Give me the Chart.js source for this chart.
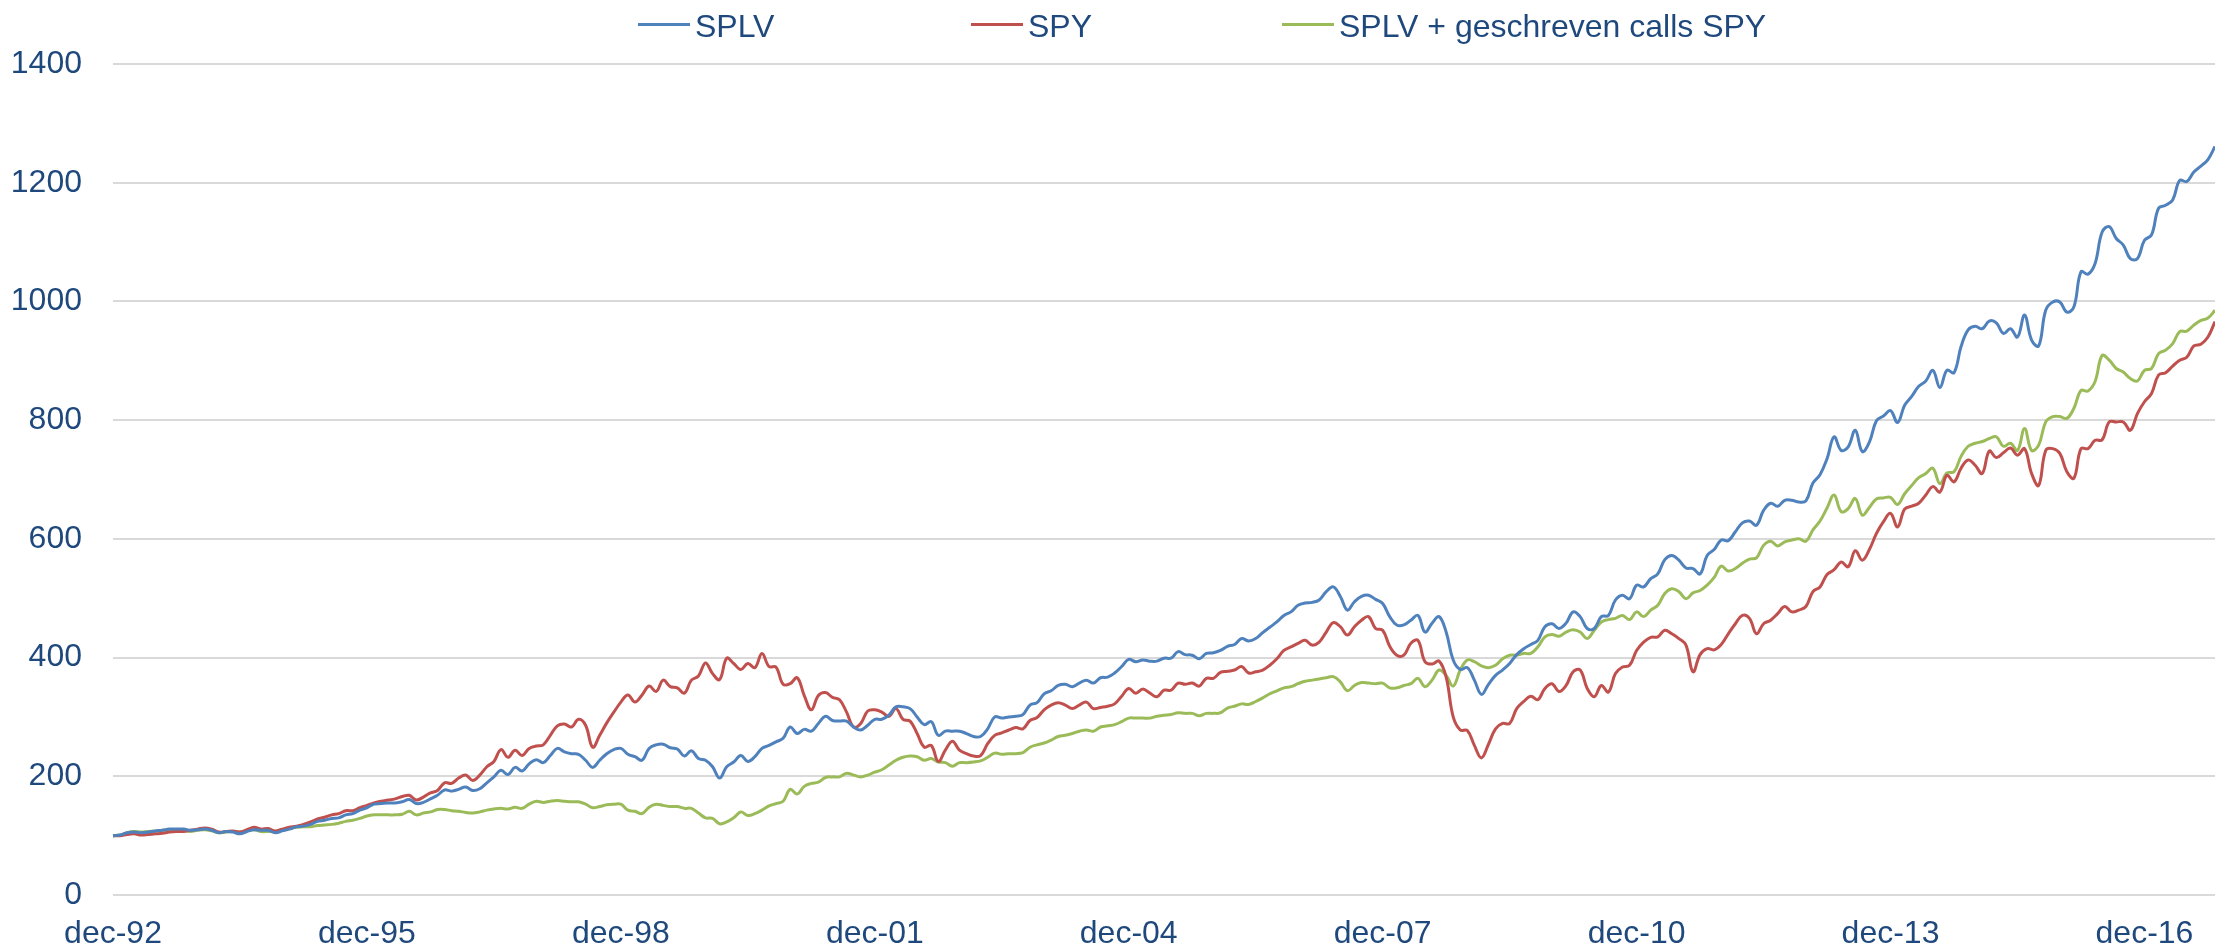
<!DOCTYPE html>
<html lang="nl">
<head>
  <meta charset="UTF-8">
  <title>SPLV vs SPY</title>
  <script src="https://cdn.jsdelivr.net/npm/chart.js"></script>
  <style>
    * { box-sizing: border-box; margin: 0; padding: 0; }

    body {
      background: #fff;
      font-family: 'Liberation Sans', Arial, sans-serif;
      overflow: hidden;
    }

    .wrap {
      position: relative;
      width: 2215px;
      height: 947px;
    }

    .legend-item {
      position: absolute;
      top: 10px;
      height: 32px;
      font-size: 32px;
      line-height: 32px;
      color: #1F497D;
      white-space: nowrap;
    }

    .legend-item .swatch {
      position: absolute;
      left: 0;
      top: 13px;
      width: 52px;
      height: 3px;
    }

    .legend-item .text {
      position: absolute;
      left: 57px;
      top: 0;
    }
  </style>
</head>
<body>

<div class="wrap">
  <canvas id="perfChart"></canvas>
  <div id="legend"></div>
</div>

<script>
  // months: dec-92 .. okt-17
  const monthNames = ['jan', 'feb', 'mrt', 'apr', 'mei', 'jun', 'jul', 'aug', 'sep', 'okt', 'nov', 'dec'];
  const yTicks = [0, 200, 400, 600, 800, 1000, 1200, 1400];

  const splv = [
    100, 101, 105, 106, 105, 106, 108, 109, 111, 111,
    111, 109, 110, 111, 109, 105, 107, 106, 103, 107,
    110, 109, 109, 105, 108, 111, 115, 116, 119, 124,
    126, 129, 130, 135, 137, 143, 147, 153, 154, 155,
    155, 157, 161, 154, 156, 162, 168, 177, 175, 178,
    182, 176, 179, 189, 199, 210, 203, 215, 209, 221,
    228, 223, 235, 247, 241, 238, 237, 227, 215, 227,
    238, 245, 247, 237, 233, 227, 247, 253, 254, 248,
    246, 234, 243, 230, 227, 216, 197, 216, 224, 235,
    225, 233, 247, 252, 258, 264, 283, 272, 279, 276,
    289, 301, 294, 293, 293, 283, 278, 286, 296, 296,
    303, 317, 317, 314, 300, 287, 292, 269, 276, 276,
    276, 272, 267, 267, 280, 300, 298, 300, 301, 304,
    320, 324, 339, 344, 353, 355, 351, 357, 362, 357,
    366, 367, 374, 385, 397, 393, 396, 394, 394, 399,
    399, 410, 405, 404, 398, 407, 408, 412, 419, 422,
    432, 428, 432, 442, 451, 460, 471, 477, 488, 492,
    493, 497, 511, 519, 503, 480, 494, 503, 505, 498,
    491, 469, 455, 455, 463, 471, 443, 458, 469, 443,
    396, 380, 383, 362, 338, 355, 370, 379, 390, 405,
    415, 422, 429, 452, 457, 449, 458, 477, 469, 449,
    449, 469, 471, 497, 505, 499, 522, 519, 533, 541,
    565, 572, 564, 551, 550, 541, 572, 582, 598, 597,
    612, 627, 630, 623, 648, 660, 655, 665, 665, 662,
    664, 694, 708, 735, 772, 749, 755, 783, 747, 763,
    799, 807, 816, 796, 825, 840, 857, 866, 884, 855,
    884, 880, 924, 952, 958, 954, 967, 964, 946, 954,
    940, 977, 935, 925, 985, 999, 999, 982, 991, 1050,
    1046, 1064, 1117, 1126, 1106, 1095, 1072, 1072, 1103, 1112,
    1157, 1162, 1171, 1204, 1202, 1218, 1228, 1239, 1261
  ];

  const spy = [
    100, 100, 102, 103, 101, 102, 103, 104, 106, 107,
    107, 109, 111, 113, 111, 106, 107, 108, 106, 110,
    114, 111, 112, 108, 111, 114, 116, 119, 123, 128,
    131, 135, 137, 142, 142, 147, 151, 155, 158, 160,
    162, 166, 168, 160, 165, 172, 176, 189, 188, 197,
    202, 193, 202, 216, 225, 245, 232, 244, 235, 247,
    251, 253, 269, 285, 288, 283, 296, 286, 249, 269,
    290, 308, 325, 337, 325, 337, 352, 343, 362, 351,
    349, 340, 362, 369, 391, 373, 363, 399, 390, 380,
    390, 383, 407, 385, 384, 355, 356, 366, 336, 312,
    336, 341, 333, 329, 308, 283, 289, 310, 312, 308,
    301, 314, 296, 293, 272, 249, 252, 225, 244, 259,
    244, 238, 234, 235, 255, 269, 273, 278, 282, 280,
    294, 299, 312, 320, 324, 320, 314, 320, 325, 314,
    316, 318, 322, 335, 348, 340, 347, 340, 334, 345,
    345, 357, 355, 357, 352, 365, 365, 375, 377, 379,
    385, 374, 376, 379, 387, 398, 412, 418, 424, 429,
    421, 426, 443, 459, 452, 438, 452, 463, 469, 449,
    446, 419, 404, 404, 424, 429, 393, 389, 394, 367,
    300, 278, 277, 252, 231, 254, 280, 289, 289, 314,
    326, 335, 329, 348, 356, 343, 353, 376, 379, 348,
    334, 353, 342, 373, 384, 387, 412, 426, 434, 435,
    446, 440, 432, 421, 376, 405, 415, 413, 422, 440,
    457, 471, 466, 440, 457, 463, 474, 486, 477, 480,
    486, 511, 519, 540, 548, 561, 553, 580, 564, 582,
    609, 629, 643, 620, 650, 655, 660, 674, 688, 679,
    707, 696, 719, 733, 724, 710, 748, 737, 745, 753,
    741, 752, 710, 690, 749, 752, 744, 713, 702, 752,
    752, 766, 767, 797, 797, 797, 783, 811, 831, 845,
    876, 880, 891, 901, 906, 925, 928, 940, 966
  ];

  const splvCalls = [
    100, 101, 105, 107, 106, 107, 108, 109, 109, 109,
    109, 107, 109, 110, 108, 105, 106, 107, 106, 109,
    110, 107, 107, 107, 110, 112, 114, 115, 115, 117,
    118, 119, 121, 124, 126, 129, 133, 135, 135, 135,
    135, 136, 141, 135, 138, 140, 144, 144, 142, 141,
    139, 138, 140, 143, 145, 146, 145, 148, 146, 153,
    158, 156, 158, 159, 158, 157, 157, 153, 147, 149,
    152, 153, 153, 143, 141, 137, 148, 153, 151, 149,
    149, 146, 146, 138, 130, 129, 120, 123, 130, 140,
    134, 137, 143, 150, 154, 158, 178, 170, 183, 188,
    190, 198, 199, 199, 205, 202, 199, 202, 207, 211,
    219, 227, 232, 234, 233, 227, 230, 224, 223, 217,
    223, 223, 224, 226, 232, 239, 237, 238, 238, 240,
    249, 253, 256, 261, 267, 269, 272, 276, 278, 276,
    283, 285, 287, 292, 298, 298, 298, 298, 301, 303,
    304, 307, 306, 306, 302, 306, 306, 307, 315, 318,
    322, 321, 326, 332, 339, 344, 349, 351, 356, 360,
    362, 364, 366, 368, 359, 344, 353, 358, 357, 356,
    357, 349, 349, 353, 356, 365, 351, 362, 379, 370,
    352, 379, 396, 393, 386, 383, 387, 398, 404, 404,
    407, 407, 418, 435, 439, 436, 443, 447, 443, 432,
    446, 460, 464, 466, 471, 464, 477, 469, 480, 488,
    508, 516, 511, 499, 509, 513, 522, 535, 554, 546,
    550, 559, 566, 568, 589, 596, 588, 595, 598, 600,
    596, 615, 630, 652, 674, 646, 651, 668, 640, 653,
    667, 669, 670, 658, 676, 690, 703, 710, 719, 693,
    711, 713, 739, 756, 761, 764, 769, 772, 756, 761,
    749, 786, 749, 758, 797, 806, 806, 803, 820, 850,
    849, 865, 909, 901, 887, 881, 870, 866, 884, 887,
    912, 918, 929, 949, 950, 960, 968, 972, 985
  ];

  const months = [];
  for (let i = 0; i < splv.length; i++) {
    const m = (11 + i) % 12;
    const y = (1992 + Math.floor((11 + i) / 12)) % 100;
    months.push(monthNames[m] + '-' + String(y).padStart(2, '0'));
  }

  const textColor = '#1F497D';
  const font = { family: "'Liberation Sans', Arial, sans-serif", size: 32 };

  const series = [
    { label: 'SPLV', data: splv, color: '#4F81BD', left: 638 },
    { label: 'SPY', data: spy, color: '#C0504D', left: 971 },
    { label: 'SPLV + geschreven calls SPY', data: splvCalls, color: '#9BBB59', left: 1282 }
  ];

  const canvas = document.getElementById('perfChart');
  canvas.width = 2215;
  canvas.height = 947;

  new Chart(canvas.getContext('2d'), {
    type: 'line',
    data: {
      labels: months,
      datasets: series.map(s => ({
        label: s.label,
        data: s.data,
        borderColor: s.color,
        backgroundColor: s.color,
        borderWidth: 3,
        pointRadius: 0,
        tension: 0.4,
        fill: false
      }))
    },
    options: {
      responsive: false,
      animation: false,
      layout: { padding: { top: 64, right: 0, bottom: 0, left: 0 } },
      plugins: {
        legend: { display: false },
        tooltip: { enabled: false }
      },
      scales: {
        x: {
          grid: { display: false, drawTicks: false },
          border: { display: false },
          ticks: {
            autoSkip: false,
            maxRotation: 0,
            minRotation: 0,
            padding: 20,
            color: textColor,
            font: font,
            callback: (value, index) => index % 36 === 0 ? months[index] : ''
          },
          afterFit: scale => {
            scale.height = 52;
            scale.paddingLeft = 0;
            scale.paddingRight = 0;
          }
        },
        y: {
          min: 0,
          max: 1400,
          afterBuildTicks: scale => { scale.ticks = yTicks.map(v => ({ value: v })); },
          grid: { color: '#D9D9D9', lineWidth: 2, drawTicks: false },
          border: { display: false },
          ticks: {
            padding: 31,
            color: textColor,
            font: font,
            callback: value => String(value)
          },
          afterFit: scale => { scale.width = 113; }
        }
      }
    }
  });

  // legend as plain html, laid out like the original
  const legend = document.getElementById('legend');
  series.forEach(s => {
    const item = document.createElement('div');
    item.className = 'legend-item';
    item.style.left = s.left + 'px';
    const swatch = document.createElement('span');
    swatch.className = 'swatch';
    swatch.style.background = s.color;
    const text = document.createElement('span');
    text.className = 'text';
    text.textContent = s.label;
    item.appendChild(swatch);
    item.appendChild(text);
    legend.appendChild(item);
  });
</script>

</body>
</html>
